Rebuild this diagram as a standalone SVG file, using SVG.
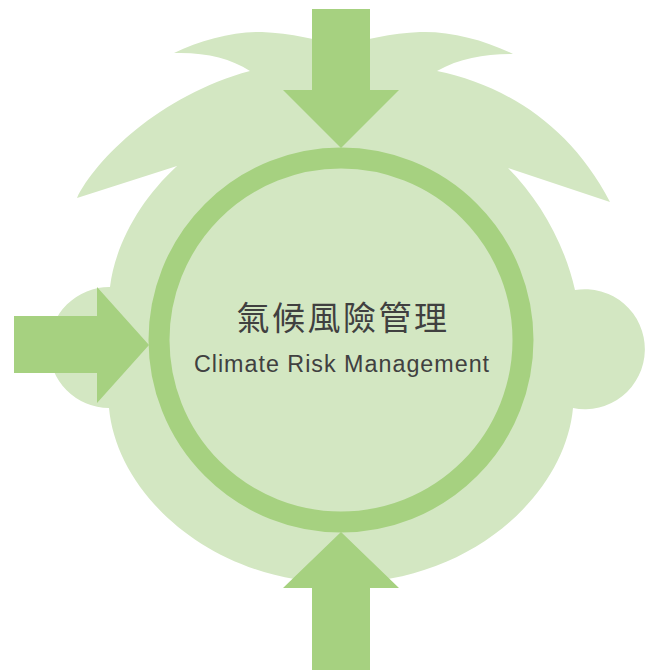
<svg xmlns="http://www.w3.org/2000/svg" width="653" height="670" viewBox="0 0 653 670">
  <style>
    .bg { fill: #d3e7c2; }
    .ring { fill: #d3e7c2; stroke: #a6d180; stroke-width: 21; }
    .arrow { fill: #a6d180; }
    .zh { font-family: "Noto Sans CJK TC", "Noto Sans CJK SC", sans-serif; font-size: 33px; fill: #404040; letter-spacing: 2.5px; }
    .en { font-family: "Liberation Sans", Arial, sans-serif; font-size: 23.3px; fill: #404040; letter-spacing: 1px; }
  </style>
  <g id="background">
    <path class="bg" d="M 174 53 C 200 40, 235 31, 262 32 C 290 33, 320 40, 341 46 C 362 40, 392 33, 420 32 C 450 31, 485 40, 513 54 C 485 54, 460 58, 437 71 C 505 85, 570 125, 610 202 L 508 168 C 540 200, 565 245, 575 290 A 60 60 0 1 1 573 408 C 565 495, 470 583, 341 583 C 212 583, 117 495, 109 408 A 60 60 0 1 1 110 287 C 115 245, 140 200, 177 166 L 77 198 C 95 160, 160 95, 250 71 C 230 58, 205 52, 174 53 Z"/>
  </g>
  <g id="ring">
    <circle class="ring" cx="341" cy="340" r="182"/>
  </g>
  <g id="center-label">
    <text class="zh" x="343" y="330" text-anchor="middle">氣候風險管理</text>
    <text class="en" x="342" y="372" text-anchor="middle">Climate Risk Management</text>
  </g>
  <g id="connectors">
    <polygon id="arrow-top" class="arrow" points="312,9 370,9 370,90 399,90 341,148 283,90 312,90"/>
    <polygon id="arrow-left" class="arrow" points="14,316 97,316 97,287 149,345 97,403 97,373 14,373"/>
    <polygon id="arrow-bottom" class="arrow" points="341,532 399,588 370,588 370,670 312,670 312,588 283,588"/>
  </g>
</svg>
